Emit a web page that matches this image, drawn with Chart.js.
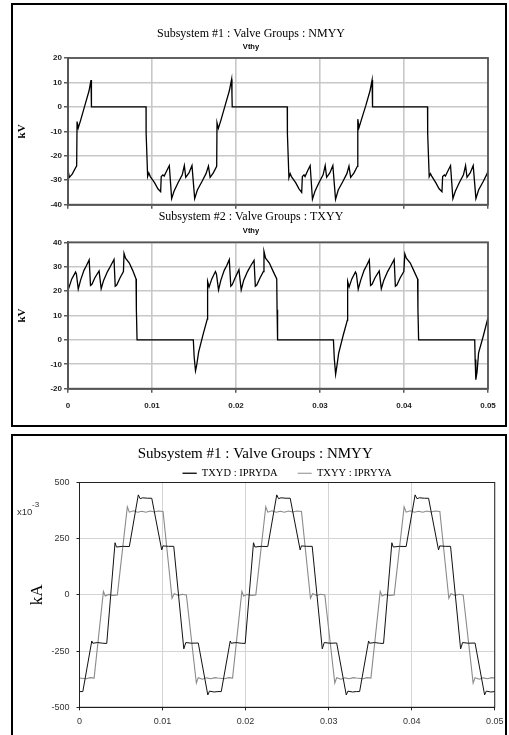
<!DOCTYPE html>
<html><head><meta charset="utf-8">
<script src="https://cdn.jsdelivr.net/npm/chart.js@4.4.1/dist/chart.umd.min.js"></script>
<style>
html,body{margin:0;padding:0;background:#fff;width:509px;height:735px;overflow:hidden;}
.box{position:absolute;border:2px solid #000;box-sizing:border-box;}
.wrap{position:absolute;left:0;width:509px;}
</style></head><body>
<div class="box" style="left:11px;top:3px;width:496px;height:424px"></div>
<div class="box" style="left:11px;top:434px;width:496px;height:320px"></div>
<div class="wrap" style="top:0;height:215px"><canvas id="c1"></canvas></div>
<div class="wrap" style="top:205px;height:220px"><canvas id="c2"></canvas></div>
<div class="wrap" style="top:435px;height:300px"><canvas id="c3"></canvas></div>
<script>
// ---- data (time in ms) ----
const X_TICK_LABELS = ['0','0.01','0.02','0.03','0.04','0.05'];
const Y1_TICK_LABELS = ['20','10','0','-10','-20','-30','-40'];
const Y2_TICK_LABELS = ['40','30','20','10','0','-10','-20'];
const Y3_TICK_LABELS = ['500','250','0','-250','-500'];
const LEGEND_NAMES = ['TXYD : IPRYDA', 'TXYY : IPRYYA'];

// Subsystem #1 : Vthy  (kV)
const vthy1 = [
[0,-25.8],[0.16,-28.8],[0.5,-27.5],[1.03,-24.1],[1.08,-6],[1.22,-8.6],[1.5,-5.5],[2.0,0.5],[2.5,6.5],[2.74,11],[2.78,5.5],[2.8,0],
[9.29,0],[9.3,-10.7],[9.48,-28.5],[9.62,-27],[9.8,-28.5],[10.3,-31],[10.7,-33.5],[11.03,-34.7],[11.1,-28.5],[11.3,-27.8],[11.45,-28.3],[11.8,-25.8],[12.06,-24],[12.34,-37.5],[12.62,-34.5],[13.1,-31],[13.6,-27.8],[13.85,-24],[14.02,-28.8],[14.4,-27],[14.76,-24],[15.08,-37.5],[15.4,-34],[15.95,-30.5],[16.43,-27.3],[16.72,-24.2],
[16.92,-28.8],[17.3,-27],[17.7,-24.3],[17.74,-6.5],[17.9,-8.8],[18.2,-5.5],[18.7,0.5],[19.2,6.5],[19.48,11.3],[19.52,5],[19.55,0],
[26.1,0],[26.12,-11],[26.3,-29],[26.45,-27.3],[26.6,-28.5],[27.1,-31],[27.5,-33.5],[27.82,-35],[27.9,-28.5],[28.1,-27.8],[28.22,-28.5],[28.57,-25.8],[28.83,-24],[29.1,-37.8],[29.4,-34.5],[29.87,-31],[30.37,-27.8],[30.62,-24],[30.79,-28.8],[31.17,-27],[31.53,-24],[31.85,-37.8],[32.17,-34],[32.72,-30.5],[33.2,-27.3],[33.45,-24.2],
[33.65,-28.8],[34.05,-27],[34.45,-24.3],[34.5,-5],[34.64,-8.5],[34.95,-5],[35.45,0.5],[35.95,6.5],[36.2,11],[36.24,5.5],[36.27,0],
[42.8,0],[42.82,-11],[43.0,-28.5],[43.15,-27.3],[43.3,-28.3],[43.78,-31],[44.18,-33.5],[44.52,-34.7],[44.6,-28.5],[44.8,-27.8],[44.93,-28.3],[45.28,-25.8],[45.54,-24],[45.82,-37.5],[46.11,-34.5],[46.58,-31],[47.08,-27.8],[47.33,-24],[47.5,-28.8],[47.88,-27],[48.24,-24],[48.56,-37.5],[48.88,-34],[49.43,-30.5],[49.9,-27.3],[50,-26]
];

// Subsystem #2 : Vthy  (kV)
const vthy2 = [
[0,22.3],[0.12,21.5],[0.45,25],[0.9,27.8],[1.0,27],[1.22,20.8],[1.5,24.5],[1.9,28.5],[2.2,30.5],[2.52,32.8],[2.68,22.3],[2.85,22.8],[3.2,25.5],[3.7,28.3],[3.95,21],[4.25,24.5],[4.7,28],[5.1,30.5],[5.48,33],[5.62,22],[5.8,22.5],[6.2,25.5],[6.6,28],[6.67,35.5],[6.85,33.5],[7.3,31.5],[7.7,28.5],[8.1,25],[8.14,12.4],[8.22,0],
[14.92,0],[15.02,-7],[15.18,-12.7],[15.3,-10.8],[15.55,-5],[16.1,2.5],[16.58,8.5],[16.6,20.5],[16.64,24],
[16.8,21.7],[17.12,25],[17.55,28],[17.67,27],[17.92,20.5],[18.2,24.5],[18.6,28.5],[18.9,30.5],[19.2,32.9],[19.38,22],[19.55,22.6],[19.9,25.5],[20.35,28.8],[20.62,20.5],[20.92,24.5],[21.37,28],[21.77,30.5],[22.15,32.6],[22.3,22],[22.47,22.5],[22.87,25.5],[23.25,28],[23.33,36.3],[23.52,33.5],[23.97,31.5],[24.37,28.5],[24.85,25],[24.89,12.4],[24.95,0],
[31.6,0],[31.7,-7.5],[31.86,-14.1],[31.98,-11.5],[32.22,-5.5],[32.77,2],[33.25,8],[33.27,20.5],[33.31,24],
[33.47,21.7],[33.79,25],[34.22,27.8],[34.33,27],[34.55,20.8],[34.85,24.5],[35.25,28.5],[35.55,30.5],[35.87,32.8],[36.02,22.3],[36.2,22.8],[36.55,25.5],[37.05,28.3],[37.3,21],[37.6,24.5],[38.05,28],[38.45,30.5],[38.83,33],[38.97,22],[39.15,22.5],[39.55,25.5],[39.98,28],[40.1,35.3],[40.28,33.5],[40.75,31.5],[41.15,28.5],[41.62,25],[41.66,12.4],[41.74,0],
[48.42,0],[48.47,-8],[48.55,-16.3],[48.7,-13],[48.88,-5.3],[49.44,1.6],[50,9.1]
];

// Subsystem #1 currents (x10^-3 kA)
const ipryda = [
[0,-430],[0.4,-430],[1.48,-205],[1.6,-215],[2.2,-212],[2.8,-215],[3.28,-216],[4.28,232],[4.45,213],[5.2,216],[6.0,215],[7.08,445],[7.3,428],[7.6,432],[8.2,430],[8.7,430],[9.9,200],[10.05,218],[10.7,216],[11.35,216],[12.56,-240],[12.8,-212],[13.5,-215],[14.3,-214],[15.45,-445],[15.65,-428],[16.2,-432],
[16.67,-430],[17.07,-430],[18.15,-205],[18.27,-215],[18.87,-212],[19.47,-215],[19.95,-216],[20.95,232],[21.12,213],[21.87,216],[22.67,215],[23.75,445],[23.97,428],[24.27,432],[24.87,430],[25.37,430],[26.57,200],[26.72,218],[27.37,216],[28.02,216],[29.23,-240],[29.47,-212],[30.17,-215],[30.97,-214],[32.12,-445],[32.32,-428],[32.87,-432],
[33.33,-430],[33.73,-430],[34.81,-205],[34.93,-215],[35.53,-212],[36.13,-215],[36.61,-216],[37.61,232],[37.78,213],[38.53,216],[39.33,215],[40.41,445],[40.63,428],[40.93,432],[41.53,430],[42.03,430],[43.23,200],[43.38,218],[44.03,216],[44.68,216],[45.89,-240],[46.13,-212],[46.83,-215],[47.63,-214],[48.78,-445],[48.98,-428],[49.53,-432],[50,-430]
];
const ipryya = [
[0,-370],[0.8,-373],[1.3,-368],[1.76,-370],[2.88,15],[3.1,-5],[3.5,2],[4.0,-2],[4.56,0],[5.76,392],[6.0,368],[6.5,374],[7.0,368],[7.5,372],[8.0,368],[8.5,373],[9.0,369],[9.5,373],[10.06,371],[11.14,-15],[11.4,5],[11.9,-2],[12.4,3],[12.87,0],[14.07,-392],[14.3,-368],[14.8,-375],[15.3,-369],[15.8,-373],[16.3,-368],
[16.67,-370],[17.47,-373],[17.97,-368],[18.43,-370],[19.55,15],[19.77,-5],[20.17,2],[20.67,-2],[21.23,0],[22.43,392],[22.67,368],[23.17,374],[23.67,368],[24.17,372],[24.67,368],[25.17,373],[25.67,369],[26.17,373],[26.73,371],[27.81,-15],[28.07,5],[28.57,-2],[29.07,3],[29.54,0],[30.74,-392],[30.97,-368],[31.47,-375],[31.97,-369],[32.47,-373],[32.97,-368],
[33.33,-370],[34.13,-373],[34.63,-368],[35.09,-370],[36.21,15],[36.43,-5],[36.83,2],[37.33,-2],[37.89,0],[39.09,392],[39.33,368],[39.83,374],[40.33,368],[40.83,372],[41.33,368],[41.83,373],[42.33,369],[42.83,373],[43.39,371],[44.47,-15],[44.73,5],[45.23,-2],[45.73,3],[46.2,0],[47.4,-392],[47.63,-368],[48.13,-375],[48.63,-369],[49.13,-373],[49.63,-368],[50,-370]
];

// ---- helpers ----
const toXY = arr => arr.map(([t, v]) => ({x: t / 1000, y: v}));

const frame = {
  id: 'frame',
  afterDraw(chart, args, o) {
    const {ctx, chartArea: a} = chart;
    ctx.save();
    ctx.strokeStyle = o.color; ctx.lineWidth = o.width;
    ctx.strokeRect(a.left, a.top, a.right - a.left, a.bottom - a.top);
    ctx.restore();
  }
};
const expLabel = {
  id: 'expLabel',
  afterDraw(chart) {
    const ctx = chart.ctx;
    ctx.save();
    ctx.fillStyle = '#333';
    ctx.textBaseline = 'middle';
    ctx.font = '9.5px "Liberation Sans"';
    ctx.fillText('x10', 17, 77);
    ctx.font = '8px "Liberation Sans"';
    ctx.fillText('-3', 32, 70);
    ctx.restore();
  }
};

const smallFont = {family: 'Liberation Sans', size: 8, weight: 'bold'};

function voltChart(id, title, data, ymin, ymax, yLabels, tPad, sPad, showX, xH) {
  return new Chart(document.getElementById(id), {
    type: 'line',
    data: {datasets: [{data: toXY(data), borderColor: '#000', borderWidth: 1.3, pointRadius: 0, tension: 0, fill: false}]},
    plugins: [frame],
    options: {
      animation: false, responsive: true, maintainAspectRatio: false,
      layout: {padding: {left: 14, right: 21, top: 0, bottom: 0}},
      plugins: {
        legend: {display: false}, tooltip: {enabled: false},
        title: {display: true, text: title, color: '#000', font: {family: 'Liberation Serif', size: 12, weight: 'normal', lineHeight: 1.2}, padding: tPad},
        subtitle: {display: true, text: 'Vthy', color: '#000', font: {family: 'Liberation Sans', size: 7.5, weight: 'bold', lineHeight: 1.2}, padding: sPad},
        frame: {color: '#555', width: 1.8}
      },
      scales: {
        x: {
          type: 'linear', min: 0, max: 0.05,
          afterFit: s => { s.height = xH; },
          grid: {color: '#c8c8c8', lineWidth: 1.6, tickLength: 4, tickColor: '#333', tickWidth: 1.2},
          border: {display: true, color: '#555', width: 1.8},
          ticks: {stepSize: 0.01, color: '#222', font: smallFont, padding: 8, maxRotation: 0,
            callback: (v, i) => showX ? X_TICK_LABELS[i] : ''}
        },
        y: {
          min: ymin, max: ymax,
          afterFit: s => { s.width = 54; },
          grid: {color: '#c8c8c8', lineWidth: 1.6, tickLength: 4, tickColor: '#333', tickWidth: 1.2},
          border: {display: true, color: '#555', width: 1.8},
          title: {display: true, text: 'kV', color: '#000', font: {family: 'Liberation Serif', size: 11, weight: 'bold'}, padding: {top: 1.5, bottom: 0}},
          ticks: {stepSize: 10, color: '#222', font: smallFont, padding: 2,
            callback: (v, i, t) => yLabels[t.length - 1 - i]}
        }
      }
    }
  });
}

voltChart('c1', 'Subsystem #1 : Valve Groups : NMYY', vthy1, -40, 20, Y1_TICK_LABELS,
  {top: 26.8, bottom: 0}, {top: 1.3, bottom: 6.5}, false, 10.3);
voltChart('c2', 'Subsystem #2 : Valve Groups : TXYY', vthy2, -20, 40, Y2_TICK_LABELS,
  {top: 5.1, bottom: 0}, {top: 1.7, bottom: 7.1}, true, 36.3);

const tickFont3 = {family: 'Liberation Sans', size: 9};
new Chart(document.getElementById('c3'), {
  type: 'line',
  data: {datasets: [
    {label: LEGEND_NAMES[0], data: toXY(ipryda), borderColor: '#111', backgroundColor: '#111', borderWidth: 1, pointRadius: 0, tension: 0},
    {label: LEGEND_NAMES[1], data: toXY(ipryya), borderColor: '#8a8a8a', backgroundColor: '#8a8a8a', borderWidth: 1.1, pointRadius: 0, tension: 0}
  ]},
  plugins: [frame, expLabel],
  options: {
    animation: false, responsive: true, maintainAspectRatio: false,
    layout: {padding: {left: 14.5, right: 13, top: 0, bottom: 0}},
    plugins: {
      tooltip: {enabled: false},
      title: {display: true, text: 'Subsystem #1 : Valve Groups : NMYY', color: '#000',
        font: {family: 'Liberation Serif', size: 15, weight: 'normal', lineHeight: 1}, padding: {top: 11.5, bottom: -13.5}},
      legend: {display: true, fullSize: false, maxHeight: 34.5,
        labels: {color: '#000', boxWidth: 14, boxHeight: 0, padding: 20,
          font: {family: 'Liberation Serif', size: 10.5}}},
      frame: {color: '#222', width: 1}
    },
    scales: {
      x: {
        type: 'linear', min: 0, max: 0.05,
        afterFit: s => { s.height = 27.7; },
        grid: {color: '#d4d4d4', lineWidth: 1, tickLength: 3, tickColor: '#222'},
        border: {display: true, color: '#111', width: 1},
        ticks: {stepSize: 0.01, color: '#333', font: tickFont3, padding: 5.5, maxRotation: 0,
          callback: (v, i) => X_TICK_LABELS[i]}
      },
      y: {
        min: -500, max: 500,
        afterFit: s => { s.width = 65; },
        grid: {color: '#d4d4d4', lineWidth: 1, tickLength: 3, tickColor: '#222'},
        border: {display: true, color: '#111', width: 1},
        title: {display: true, text: 'kA', color: '#000', font: {family: 'Liberation Serif', size: 17}, padding: {top: 12.5, bottom: 0}},
        ticks: {stepSize: 250, color: '#333', font: tickFont3, padding: 7,
          callback: (v, i, t) => Y3_TICK_LABELS[t.length - 1 - i]}
      }
    }
  }
});
</script>
</body></html>
